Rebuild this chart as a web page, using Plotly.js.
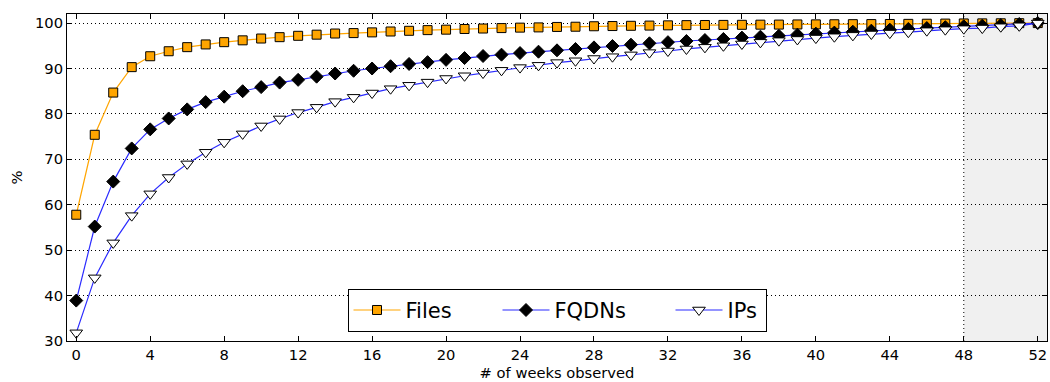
<!DOCTYPE html>
<html>
<head>
<meta charset="utf-8">
<script src="https://cdn.plot.ly/plotly-3.0.1.min.js"></script>
<style>html,body{margin:0;padding:0;background:#fff}#chart{width:1050px;height:382px}</style>
</head>
<body>
<div id="chart"></div>
<script>
// Data
const weeks = Array.from({length: 53}, (_, i) => i);
const files = [57.8, 75.4, 84.7, 90.3, 92.7, 93.8, 94.7, 95.3, 95.8, 96.2,
  96.6, 96.9, 97.2, 97.45, 97.7, 97.8, 97.95, 98.15, 98.3, 98.45,
  98.55, 98.7, 98.8, 98.9, 99.0, 99.05, 99.15, 99.2, 99.3, 99.35,
  99.4, 99.45, 99.5, 99.55, 99.58, 99.6, 99.62, 99.65, 99.67, 99.7,
  99.72, 99.74, 99.76, 99.78, 99.8, 99.83, 99.86, 99.89, 99.92, 99.94,
  99.96, 99.98, 100];
const fqdns = [38.9, 55.2, 65.1, 72.4, 76.6, 79.0, 81.0, 82.6, 83.8, 85.0,
  85.9, 86.9, 87.5, 88.2, 88.9, 89.5, 90.0, 90.5, 91.0, 91.4,
  91.9, 92.3, 92.75, 93.05, 93.4, 93.7, 94.0, 94.3, 94.65, 94.95,
  95.25, 95.55, 95.8, 96.05, 96.27, 96.5, 96.8, 97.0, 97.2, 97.45,
  97.67, 97.9, 98.1, 98.33, 98.55, 98.7, 98.9, 99.1, 99.3, 99.43,
  99.57, 99.8, 100];
const ips = [31.8, 43.9, 51.6, 57.6, 62.4, 66.0, 69.0, 71.55, 73.75, 75.6,
  77.35, 78.9, 80.3, 81.45, 82.7, 83.65, 84.6, 85.55, 86.3, 87.0,
  87.8, 88.4, 89.0, 89.6, 90.2, 90.7, 91.3, 91.7, 92.2, 92.6,
  93.0, 93.5, 93.85, 94.3, 94.66, 95.0, 95.4, 95.76, 96.13, 96.4,
  96.7, 97.0, 97.3, 97.6, 97.8, 98.0, 98.33, 98.55, 98.77, 98.9,
  99.2, 99.4, 100];
const seriesNames = ["Files", "FQDNs", "IPs"];
const xTicks = [0, 4, 8, 12, 16, 20, 24, 28, 32, 36, 40, 44, 48, 52];
const yTicks = [30, 40, 50, 60, 70, 80, 90, 100];
const shadeStart = 48;

const font = "DejaVu Sans, sans-serif";
const blue = "#2b2bff";

const traces = [
  {x: weeks, y: files, name: seriesNames[0], mode: "lines+markers", legendwidth: 87,
   line: {color: "#ffa500", width: 1.2},
   marker: {symbol: "square", size: 9, color: "#ffa500", line: {color: "#000", width: 1}}},
  {x: weeks, y: fqdns, name: seriesNames[1], mode: "lines+markers", legendwidth: 111,
   line: {color: blue, width: 1.2},
   marker: {symbol: "diamond", size: 10, color: "#000", line: {color: "#000", width: 1}}},
  {x: weeks, y: ips, name: seriesNames[2], mode: "lines+markers", legendwidth: 33,
   line: {color: blue, width: 1.2},
   marker: {symbol: "triangle-down", size: 11, color: "#fff", line: {color: "#000", width: 1}}}
];

const layout = {
  width: 1050, height: 382,
  margin: {l: 67, r: 3, t: 14, b: 41},
  paper_bgcolor: "#fff", plot_bgcolor: "#fff",
  font: {family: font, size: 14.7, color: "#000"},
  showlegend: true,
  legend: {
    orientation: "h", x: 0.5, xanchor: "center", y: 0.028, yanchor: "bottom",
    bordercolor: "#000", borderwidth: 1, bgcolor: "#fff",
    font: {family: font, size: 21, color: "#000"},
    itemwidth: 47
  },
  xaxis: {
    range: [-0.5, 52.5], tickvals: xTicks, ticks: "inside", ticklen: 5,
    tickcolor: "#000", showline: true, linecolor: "#000", linewidth: 1,
    mirror: "ticks", showgrid: false, zeroline: false,
    title: {text: "# of weeks observed", font: {family: font, size: 14.7}, standoff: 6},
    tickfont: {family: font, size: 14.7}
  },
  yaxis: {
    range: [30, 102], tickvals: yTicks, ticks: "inside", ticklen: 5,
    tickcolor: "#000", showline: true, linecolor: "#000", linewidth: 1,
    mirror: "ticks", showgrid: true, gridcolor: "#000", griddash: "1px,3px", gridwidth: 1,
    zeroline: false,
    title: {text: "%", font: {family: font, size: 14.7}, standoff: 8},
    tickfont: {family: font, size: 14.7}
  },
  shapes: [
    {type: "rect", xref: "x", yref: "paper", x0: shadeStart, x1: 52.5, y0: 0, y1: 1,
     fillcolor: "#f0f0f0", line: {width: 0}, layer: "below"},
    {type: "line", xref: "x", yref: "paper", x0: shadeStart, x1: shadeStart, y0: 0, y1: 1,
     line: {color: "#000", width: 1, dash: "1px,3px"}, layer: "below"}
  ]
};

Plotly.newPlot("chart", traces, layout, {displayModeBar: false, staticPlot: true});
</script>
</body>
</html>
